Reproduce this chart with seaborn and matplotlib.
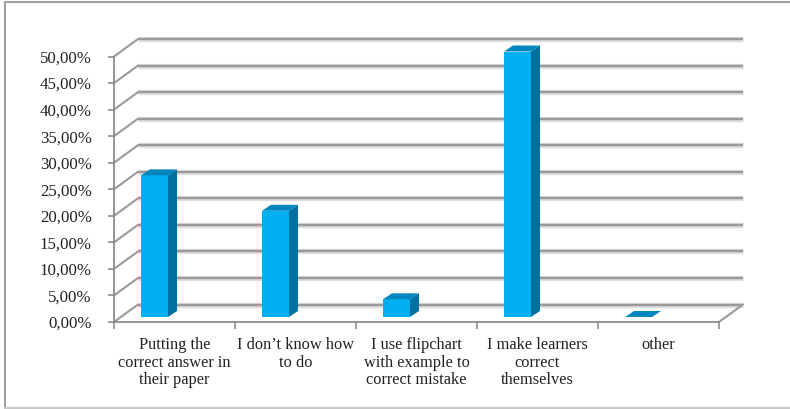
import matplotlib
matplotlib.use("Agg")
import matplotlib.pyplot as plt
import seaborn as sns
import pandas as pd
from matplotlib.patches import Polygon
from matplotlib.lines import Line2D

categories = [
    "Putting the\ncorrect answer in\ntheir paper",
    "I don\u2019t know how\nto do",
    "I use flipchart\nwith example to\ncorrect mistake",
    "I make learners\ncorrect\nthemselves",
    "other",
]
values = [26.67, 20.0, 3.33, 50.0, 0.0]
yticks = [0, 5, 10, 15, 20, 25, 30, 35, 40, 45, 50]
ytick_labels = ["0,00%", "5,00%", "10,00%", "15,00%", "20,00%", "25,00%",
                "30,00%", "35,00%", "40,00%", "45,00%", "50,00%"]

sns.set_theme(style="white")
plt.rcParams["font.family"] = ["Liberation Serif", "DejaVu Serif"]

W, H = 790, 409
fig = plt.figure(figsize=(W / 100, H / 100), dpi=100)

# front plane of the 3D box in pixels
x_left, x_right = 114, 719
y_zero, y_top = 322, 56.5
ax = fig.add_axes([x_left / W, 1 - y_zero / H, (x_right - x_left) / W, (y_zero - y_top) / H])

df = pd.DataFrame({"cat": categories, "val": values})
sns.barplot(data=df, x="cat", y="val", width=0.223, color="#00B0F0",
            saturation=1, ax=ax, zorder=5)
ax.set_xlim(-0.5, 4.5)
ax.set_ylim(0, 50)

px_x = (x_right - x_left) / 5.0          # pixels per category unit
px_y = (y_zero - y_top) / 50.0           # pixels per percent
wall_dx, wall_dy = 24 / px_x, 17.5 / px_y  # depth of the box in data units

grid_c = "#9a9a9a"
glow_c = "#dedede"
# back-wall gridlines and left-wall diagonals
for yv in yticks:
    ax.plot([-0.5 + wall_dx, 4.5 + wall_dx], [yv + wall_dy, yv + wall_dy],
            color=glow_c, lw=3.8, clip_on=False, zorder=1, solid_capstyle="butt")
    ax.plot([-0.5 + wall_dx, 4.5 + wall_dx], [yv + wall_dy, yv + wall_dy],
            color=grid_c, lw=1.7, clip_on=False, zorder=2, solid_capstyle="butt")
    ax.plot([-0.5, -0.5 + wall_dx], [yv, yv + wall_dy],
            color=grid_c, lw=1.5, clip_on=False, zorder=2)
# right floor edge
ax.plot([4.5, 4.5 + wall_dx], [0, wall_dy], color=grid_c, lw=1.5, clip_on=False, zorder=2)

# 3D bars: shift front faces into depth and add top and side faces
shift_x = -20 / px_x
shift_y = 5 / px_y
bar_dx, bar_dy = 9 / px_x, 6 / px_y
top_c = "#0086BE"
side_c = "#00709E"
for p in ax.patches:
    x0 = p.get_x() + shift_x
    w = p.get_width()
    h = p.get_height()
    p.set_x(x0)
    p.set_y(shift_y)
    p.set_edgecolor("none")
    p.set_clip_on(False)
    yb, yt = shift_y, shift_y + h
    side = Polygon([(x0 + w, yb), (x0 + w + bar_dx, yb + bar_dy),
                    (x0 + w + bar_dx, yt + bar_dy), (x0 + w, yt)],
                   closed=True, facecolor=side_c, edgecolor="none", zorder=5, clip_on=False)
    top = Polygon([(x0, yt), (x0 + w, yt), (x0 + w + bar_dx, yt + bar_dy),
                   (x0 + bar_dx, yt + bar_dy)],
                  closed=True, facecolor=top_c, edgecolor="none", zorder=5, clip_on=False)
    ax.add_patch(side)
    ax.add_patch(top)

# axes styling
for s in ["top", "right"]:
    ax.spines[s].set_visible(False)
for s in ["left", "bottom"]:
    ax.spines[s].set_color("#8c8c8c")
    ax.spines[s].set_linewidth(1.3)
    ax.spines[s].set_zorder(3)

ax.set_yticks(yticks)
ax.set_yticklabels(ytick_labels)
ax.set_xlabel("")
ax.set_ylabel("")
ax.tick_params(axis="y", left=True, length=4, width=1.2, color="#8c8c8c",
               pad=12, labelsize=12.2, labelcolor="#222222")
# x ticks at category boundaries, labels at category centres
ax.set_xticks([-0.5, 0.5, 1.5, 2.5, 3.5, 4.5])
ax.set_xticklabels([])
ax.set_xticks(range(len(categories)), minor=True)
ax.set_xticklabels(categories, minor=True, fontsize=11.8, linespacing=1.12,
                   color="#222222")
ax.tick_params(axis="x", which="major", bottom=True, length=5, width=1.2, color="#8c8c8c")
ax.tick_params(axis="x", which="minor", bottom=False, length=0, pad=11)
ax.set_facecolor("none")

# outer frame of the chart area
frame_c = "#a0a0a0"
fig.add_artist(Line2D([5 / W, 5 / W], [1 - 408 / H, 1 - 2 / H], color=frame_c, lw=1.5,
                      transform=fig.transFigure))
fig.add_artist(Line2D([5 / W, 1.0], [1 - 2 / H, 1 - 2 / H], color=frame_c, lw=1.5,
                      transform=fig.transFigure))
fig.add_artist(Line2D([5 / W, 1.0], [1 - 408 / H, 1 - 408 / H], color="#c8c8c8", lw=1.5,
                      transform=fig.transFigure))

fig.savefig("out.png", dpi=100)
